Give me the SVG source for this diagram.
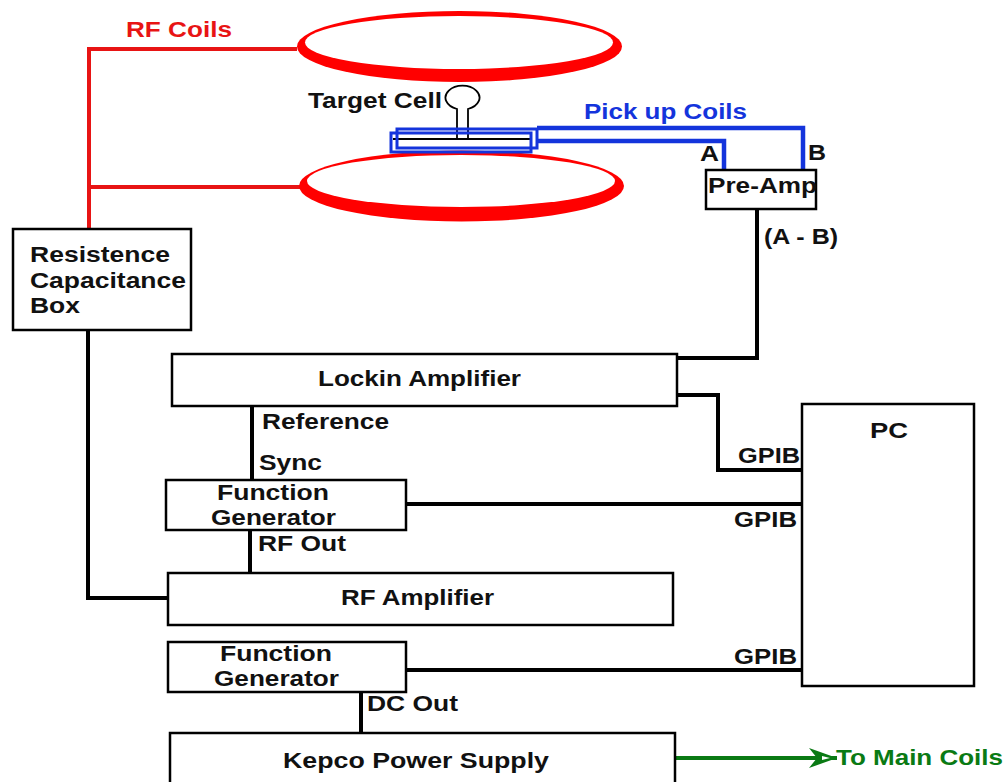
<svg xmlns="http://www.w3.org/2000/svg" width="1007" height="782" viewBox="0 0 1007 782">
<style>
text{font-family:"Liberation Sans",Arial,sans-serif;font-weight:bold;font-size:22px;fill:#111}
.box{fill:#fff;stroke:#000;stroke-width:2.5}
.k{fill:none;stroke:#000;stroke-width:4}
.r{fill:none;stroke:#e81414;stroke-width:4}
.b{fill:none;stroke:#1434dc;stroke-width:4.5}
.thin{fill:none;stroke:#000;stroke-width:1.8}
.coil{fill:#f00}
.in{fill:#fff}
</style>
<defs>
<marker id="arrow" markerUnits="userSpaceOnUse" markerWidth="32" markerHeight="24" refX="29" refY="12" orient="auto">
<path d="M1 2 L29 12 L1 22 L9 12 Z" fill="#0a7a14"/>
<path d="M14 10 L22 12 L14 14 Z" fill="#fff"/>
</marker>
</defs>
<g id="connectors">
<path class="r" d="M297 49H89V230M89 187H300"/>
<path class="b" d="M537 128H803V170M537 141H724V170"/>
<path class="k" d="M757 209V358H677M252 405V480M250 530V573M88 330V598H168M361 692V733M677 395H718V470H803M406 504H803M406 670H803"/>
<path d="M676 758H837" fill="none" stroke="#0a7a14" stroke-width="4" marker-end="url(#arrow)"/>
</g>
<g id="coil-top"><ellipse class="coil" cx="459.500" cy="46.500" rx="162.500" ry="35.500"/><ellipse class="in" cx="459" cy="42.500" rx="154" ry="26.500"/></g>
<g id="coil-bottom"><ellipse class="coil" cx="461.500" cy="186" rx="162.500" ry="35.500"/><ellipse class="in" cx="461" cy="181" rx="154" ry="26"/></g>
<g id="target-cell">
<rect x="393" y="131" width="142" height="19" fill="#fff"/>
<path class="thin" d="M457 138V109A17 12 0 1 1 468 109V138M393 139H531"/>
<rect x="397" y="129" width="140" height="19" fill="none" stroke="#1434dc" stroke-width="3"/>
<rect x="391" y="133" width="140" height="19" fill="none" stroke="#1434dc" stroke-width="3"/>
</g>
<g id="pre-amp"><rect class="box" x="706" y="170" width="110" height="39"/><text x="708" y="193" textLength="109" lengthAdjust="spacingAndGlyphs">Pre-Amp</text></g>
<g id="rc-box"><rect class="box" x="13" y="229" width="178" height="101"/>
<text x="30" y="262" textLength="140" lengthAdjust="spacingAndGlyphs">Resistence</text>
<text x="30" y="288" textLength="156" lengthAdjust="spacingAndGlyphs">Capacitance</text>
<text x="30" y="313" textLength="50" lengthAdjust="spacingAndGlyphs">Box</text></g>
<g id="lockin"><rect class="box" x="172" y="354" width="505" height="52"/><text x="318" y="386" textLength="203" lengthAdjust="spacingAndGlyphs">Lockin Amplifier</text></g>
<g id="pc"><rect class="box" x="802" y="404" width="172" height="282"/><text x="870" y="438" textLength="38" lengthAdjust="spacingAndGlyphs">PC</text></g>
<g id="fg1"><rect class="box" x="166" y="480" width="240" height="50"/>
<text x="217" y="500" textLength="112" lengthAdjust="spacingAndGlyphs">Function</text>
<text x="211" y="525" textLength="125" lengthAdjust="spacingAndGlyphs">Generator</text></g>
<g id="rf-amp"><rect class="box" x="168" y="573" width="505" height="52"/><text x="341" y="605" textLength="153" lengthAdjust="spacingAndGlyphs">RF Amplifier</text></g>
<g id="fg2"><rect class="box" x="168" y="642" width="238" height="50"/>
<text x="220" y="661" textLength="112" lengthAdjust="spacingAndGlyphs">Function</text>
<text x="214" y="686" textLength="125" lengthAdjust="spacingAndGlyphs">Generator</text></g>
<g id="kepco"><rect class="box" x="170" y="733" width="505" height="52"/><text x="283" y="768" textLength="266" lengthAdjust="spacingAndGlyphs">Kepco Power Supply</text></g>
<g id="labels">
<text x="126" y="37" textLength="106" lengthAdjust="spacingAndGlyphs" style="fill:#e81414">RF Coils</text>
<text x="308" y="108" textLength="134" lengthAdjust="spacingAndGlyphs">Target Cell</text>
<text x="584" y="119" textLength="163" lengthAdjust="spacingAndGlyphs" style="fill:#1434dc">Pick up Coils</text>
<text x="700" y="161" textLength="19" lengthAdjust="spacingAndGlyphs">A</text>
<text x="808" y="160" textLength="18" lengthAdjust="spacingAndGlyphs">B</text>
<text x="764" y="244" textLength="74" lengthAdjust="spacingAndGlyphs">(A - B)</text>
<text x="262" y="429" textLength="127" lengthAdjust="spacingAndGlyphs">Reference</text>
<text x="259" y="470" textLength="63" lengthAdjust="spacingAndGlyphs">Sync</text>
<text x="258" y="551" textLength="88" lengthAdjust="spacingAndGlyphs">RF Out</text>
<text x="367" y="711" textLength="91" lengthAdjust="spacingAndGlyphs">DC Out</text>
<text x="738" y="463" textLength="62" lengthAdjust="spacingAndGlyphs">GPIB</text>
<text x="734" y="527" textLength="63" lengthAdjust="spacingAndGlyphs">GPIB</text>
<text x="734" y="664" textLength="63" lengthAdjust="spacingAndGlyphs">GPIB</text>
<text x="836" y="765" textLength="167" lengthAdjust="spacingAndGlyphs" style="fill:#0a7a14">To Main Coils</text>
</g>
</svg>
